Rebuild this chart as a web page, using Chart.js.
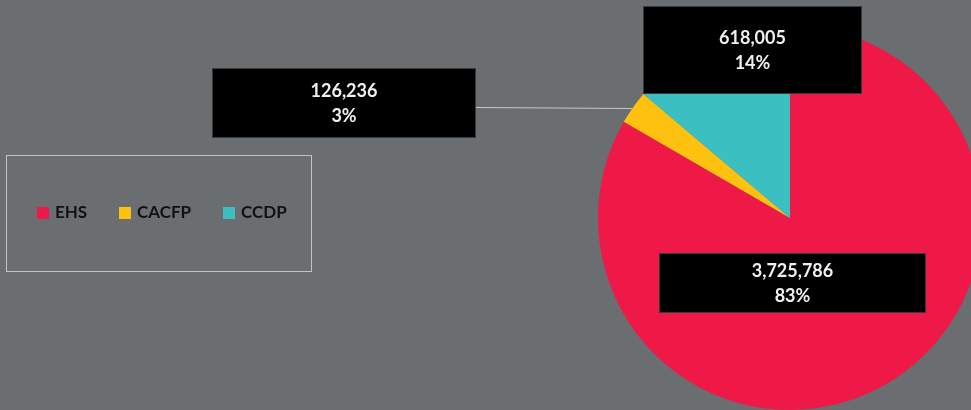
<!DOCTYPE html>
<html>
<head>
<meta charset="utf-8">
<script src="https://cdn.jsdelivr.net/npm/chart.js@4.4.1/dist/chart.umd.min.js"></script>
<style>
  html, body { margin: 0; padding: 0; background: #6a6e70; overflow: hidden; }
  #wrap { position: relative; width: 1000px; height: 410px; }
</style>
</head>
<body>
<div id="wrap"><canvas id="pieChart"></canvas></div>
<script>
// data
const labels = ['EHS', 'CACFP', 'CCDP'];
const values = [3725786, 126236, 618005];
const colors = ['#ee1946', '#fec10f', '#3bbfc1'];

// label boxes (layout only)
const boxes = [
    { x: 659, y: 253, w: 267, h: 60 },
    { x: 212, y: 68, w: 264, h: 70, leader: [476, 107, 632, 108] },
    { x: 643, y: 6, w: 219, h: 88 }
];

const total = values.reduce((a, b) => a + b, 0);

// 数据标签
const boxLabels = {
    id: 'boxLabels',
    afterDatasetsDraw(chart) {
        const ctx = chart.ctx;
        ctx.save();
        boxes.forEach((b, i) => {
            if (b.leader) {
                ctx.strokeStyle = '#c8c8c8';
                ctx.lineWidth = 1;
                ctx.beginPath();
                ctx.moveTo(b.leader[0], b.leader[1] + 0.5);
                ctx.lineTo(b.leader[2], b.leader[3] + 0.5);
                ctx.stroke();
            }
            ctx.fillStyle = '#000';
            ctx.fillRect(b.x, b.y, b.w, b.h);
            ctx.strokeStyle = '#3a3a3a';
            ctx.strokeRect(b.x + 0.5, b.y + 0.5, b.w - 1, b.h - 1);
            const v = values[i];
            const pct = Math.round(v / total * 100) + '%';
            ctx.fillStyle = '#f0f0f0';
            ctx.font = 'bold 18px Lato, "Open Sans", sans-serif';
            ctx.textAlign = 'center';
            ctx.textBaseline = 'middle';
            const cx = b.x + b.w / 2;
            const cy = b.y + b.h / 2;
            ctx.fillText(v.toLocaleString('en-US'), cx, cy - 12);
            ctx.fillText(pct, cx, cy + 13);
        });
        ctx.restore();
    }
};

// 图例
const boxLegend = {
    id: 'boxLegend',
    afterDraw(chart) {
        const ctx = chart.ctx;
        ctx.save();
        ctx.strokeStyle = '#c4c4c4';
        ctx.lineWidth = 1;
        ctx.strokeRect(6.5, 155.5, 305, 116);
        const xs = [37, 119, 223];
        ctx.font = 'bold 17px Lato, "Open Sans", sans-serif';
        ctx.textBaseline = 'middle';
        ctx.textAlign = 'left';
        labels.forEach((l, i) => {
            ctx.fillStyle = colors[i];
            ctx.fillRect(xs[i], 207, 12, 12);
            ctx.fillStyle = '#111';
            ctx.fillText(l, xs[i] + 18, 213);
        });
        ctx.restore();
    }
};

new Chart(document.getElementById('pieChart'), {
    type: 'pie',
    data: {
        labels: labels,
        datasets: [{
            data: values,
            backgroundColor: colors,
            borderWidth: 0
        }]
    },
    options: {
        responsive: true,
        maintainAspectRatio: false,
        animation: false,
        layout: {
            padding: { left: 598, right: 18, top: 26, bottom: 0 }
        },
        plugins: {
            legend: { display: false },
            tooltip: { enabled: false }
        }
    },
    plugins: [boxLabels, boxLegend]
});
</script>
</body>
</html>
